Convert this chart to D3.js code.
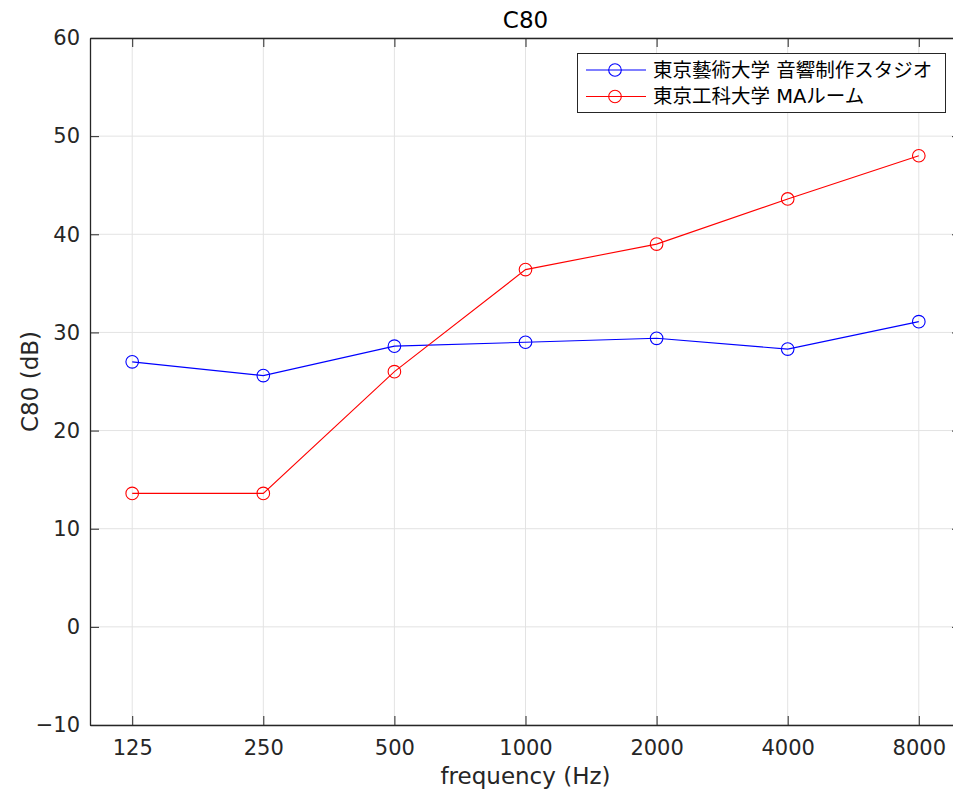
<!DOCTYPE html>
<html>
<head>
<meta charset="utf-8">
<script src="https://cdn.jsdelivr.net/npm/d3@7"></script>
<style>
  body { margin: 0; background: #fff; }
  svg { display: block; font-family: "DejaVu Sans", "Noto Sans CJK JP", sans-serif; }
</style>
</head>
<body>
<svg id="chart" width="953" height="792"></svg>
<script>
// data
const freqs = [125, 250, 500, 1000, 2000, 4000, 8000];
const geidai = [27.0, 25.6, 28.6, 29.0, 29.4, 28.3, 31.1];
const kougei = [13.6, 13.6, 26.0, 36.4, 39.0, 43.6, 48.0];
const seriesNames = ["東京藝術大学 音響制作スタジオ", "東京工科大学 MAルーム"];
const seriesColors = ["#0000ff", "#ff0000"];
const yTicks = [-10, 0, 10, 20, 30, 40, 50, 60];

const svg = d3.select("#chart");
const axisColor = "#262626";
const fontFam = "DejaVu Sans, Noto Sans CJK JP, sans-serif";

// plot box (right edge runs just past the window, like the original)
const pLeft = 90, pRight = 961, pTop = 38, pBottom = 725;

const x = d3.scaleLog().domain([100, 10000]).range([pLeft, pRight]);
const y = d3.scaleLinear().domain([-10, 60]).range([pBottom, pTop]);

// grid
const grid = svg.append("g");
grid.selectAll(".vg").data(freqs).join("line")
  .attr("x1", d => x(d)).attr("x2", d => x(d))
  .attr("y1", pTop).attr("y2", pBottom)
  .attr("stroke", "#e3e3e3").attr("stroke-width", 1);
grid.selectAll(".hg").data(yTicks).join("line")
  .attr("x1", pLeft).attr("x2", pRight)
  .attr("y1", d => y(d)).attr("y2", d => y(d))
  .attr("stroke", "#e3e3e3").attr("stroke-width", 1);

// axes (ticks inward, mirrored on top/right)
const xAxis = d3.axisBottom(x).tickValues(freqs).tickFormat(d3.format("d"))
  .tickSizeInner(-9).tickSizeOuter(0).tickPadding(15);
const gx = svg.append("g").attr("transform", `translate(0,${pBottom})`).call(xAxis);

const yAxis = d3.axisLeft(y).tickValues(yTicks).tickFormat(d => d < 0 ? "\u2212" + Math.abs(d) : d)
  .tickSizeInner(-9).tickSizeOuter(0).tickPadding(10);
const gy = svg.append("g").attr("transform", `translate(${pLeft},0)`).call(yAxis);

const gxTop = svg.append("g").attr("transform", `translate(0,${pTop})`)
  .call(d3.axisTop(x).tickValues(freqs).tickFormat("").tickSizeInner(-9).tickSizeOuter(0));
const gyRight = svg.append("g").attr("transform", `translate(${pRight},0)`)
  .call(d3.axisRight(y).tickValues(yTicks).tickFormat("").tickSizeInner(-9).tickSizeOuter(0));

[gx, gy, gxTop, gyRight].forEach(g => {
  g.select(".domain").attr("stroke", axisColor).attr("stroke-width", 1.3);
  g.selectAll(".tick line").attr("stroke", axisColor).attr("stroke-width", 1);
  g.selectAll(".tick text").attr("fill", axisColor)
    .attr("font-size", 21).attr("font-family", fontFam);
});

// series
const line = d3.line().x((d, i) => x(freqs[i])).y(d => y(d));
[geidai, kougei].forEach((vals, k) => {
  const g = svg.append("g");
  g.append("path").datum(vals)
    .attr("d", line).attr("fill", "none")
    .attr("stroke", seriesColors[k]).attr("stroke-width", 1.1);
  g.selectAll("circle").data(vals).join("circle")
    .attr("cx", (d, i) => x(freqs[i])).attr("cy", d => y(d))
    .attr("r", 6.3).attr("fill", "none")
    .attr("stroke", seriesColors[k]).attr("stroke-width", 1.1);
});

// title & labels
svg.append("text").attr("x", (pLeft + pRight) / 2).attr("y", 28)
  .attr("text-anchor", "middle").attr("font-size", 23).attr("fill", "#000")
  .text("C80");
svg.append("text").attr("x", (pLeft + pRight) / 2).attr("y", 784)
  .attr("text-anchor", "middle").attr("font-size", 23).attr("fill", axisColor)
  .text("frequency (Hz)");
svg.append("text")
  .attr("transform", `translate(38,${(pTop + pBottom) / 2}) rotate(-90)`)
  .attr("text-anchor", "middle").attr("font-size", 23).attr("fill", axisColor)
  .text("C80 (dB)");

// legend
const lg = svg.append("g");
lg.append("rect").attr("x", 577.5).attr("y", 53.5).attr("width", 368).attr("height", 59)
  .attr("fill", "#fff").attr("stroke", axisColor).attr("stroke-width", 1);
seriesNames.forEach((name, k) => {
  const cy = 70 + k * 26.5;
  lg.append("line").attr("x1", 586).attr("x2", 646).attr("y1", cy).attr("y2", cy)
    .attr("stroke", seriesColors[k]).attr("stroke-width", 1.1);
  lg.append("circle").attr("cx", 615).attr("cy", cy).attr("r", 6.3)
    .attr("fill", "none").attr("stroke", seriesColors[k]).attr("stroke-width", 1.1);
  lg.append("text").attr("x", 653).attr("y", cy).attr("dy", "0.35em")
    .attr("font-size", 19.5).attr("font-family", fontFam)
    .attr("fill", "#000").text(name);
});
</script>
</body>
</html>
